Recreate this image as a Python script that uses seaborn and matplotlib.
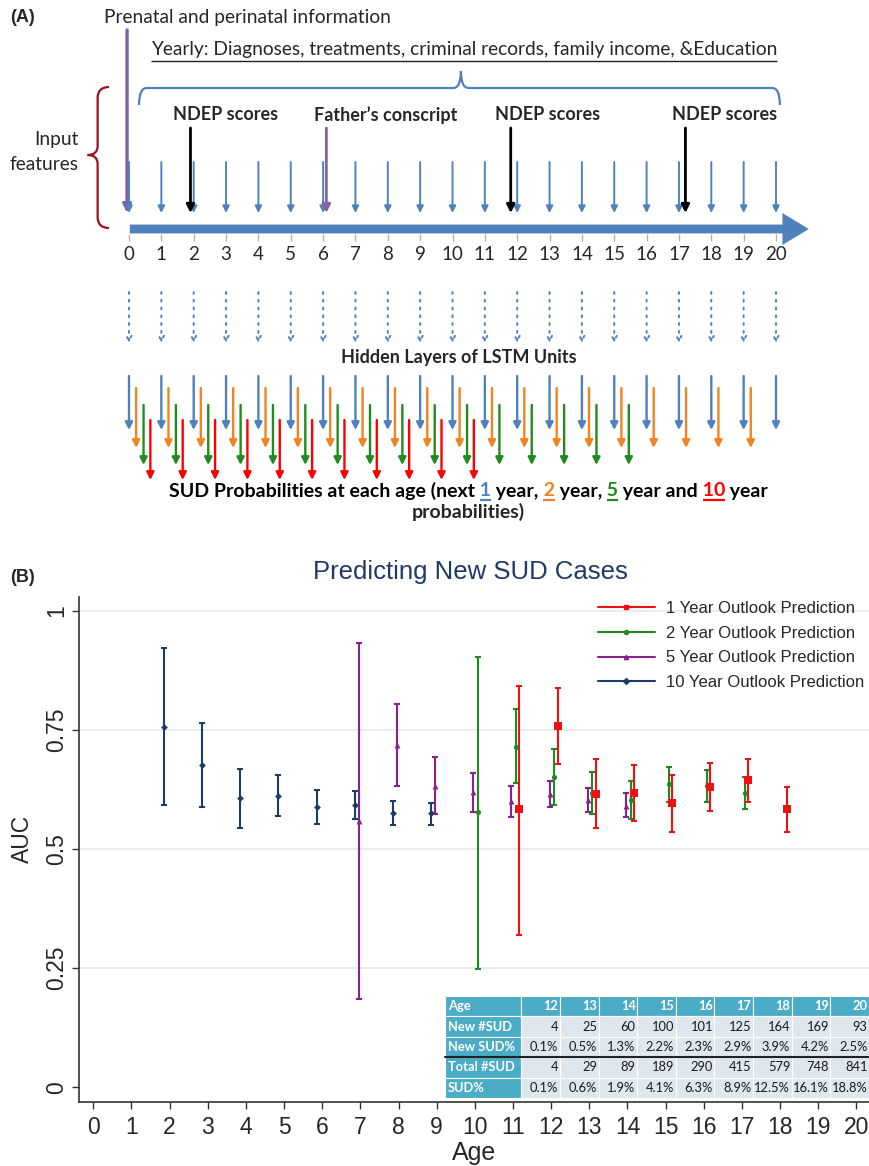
import matplotlib
matplotlib.use('Agg')
import matplotlib.pyplot as plt
import seaborn as sns
import pandas as pd
from matplotlib.lines import Line2D
from matplotlib.patches import FancyArrowPatch, PathPatch
from matplotlib.path import Path
from matplotlib.table import Table

# ---------------- panel A: timeline of the model -----------------
timeline_ages = list(range(0, 21))
out_1yr_ages = list(range(0, 21))
out_2yr_ages = list(range(0, 20))
out_5yr_ages = list(range(0, 16))
out_10yr_ages = list(range(0, 11))
prenatal_age = -0.06
ndep_ages = [1.9, 11.8, 17.2]
conscript_age = 6.1
event_labels = ['NDEP scores', 'Father\u2019s conscript', 'NDEP scores', 'NDEP scores']
event_label_ages = [3.0, 7.95, 12.95, 18.4]

# ---------------- panel B: AUC by age ----------------------------
ten_year_age = [2, 3, 4, 5, 6, 7, 8, 9]
ten_year_auc = [0.756, 0.677, 0.607, 0.612, 0.589, 0.592, 0.576, 0.575]
ten_year_lo = [0.592, 0.589, 0.545, 0.570, 0.553, 0.563, 0.550, 0.550]
ten_year_hi = [0.922, 0.764, 0.668, 0.655, 0.624, 0.622, 0.601, 0.597]

five_year_age = [7, 8, 9, 10, 11, 12, 13, 14]
five_year_auc = [0.559, 0.718, 0.632, 0.619, 0.601, 0.615, 0.603, 0.591]
five_year_lo = [0.186, 0.633, 0.573, 0.578, 0.567, 0.588, 0.577, 0.568]
five_year_hi = [0.933, 0.805, 0.693, 0.660, 0.633, 0.643, 0.628, 0.617]

two_year_age = [10, 11, 12, 13, 14, 15, 16, 17]
two_year_auc = [0.577, 0.715, 0.652, 0.617, 0.603, 0.636, 0.632, 0.618]
two_year_lo = [0.248, 0.639, 0.592, 0.574, 0.564, 0.598, 0.598, 0.585]
two_year_hi = [0.903, 0.793, 0.710, 0.662, 0.642, 0.672, 0.665, 0.651]

one_year_age = [11, 12, 13, 14, 15, 16, 17, 18]
one_year_auc = [0.583, 0.758, 0.616, 0.618, 0.596, 0.631, 0.644, 0.584]
one_year_lo = [0.319, 0.679, 0.545, 0.559, 0.536, 0.580, 0.599, 0.536]
one_year_hi = [0.842, 0.838, 0.688, 0.676, 0.655, 0.681, 0.690, 0.631]

table_ages = [12, 13, 14, 15, 16, 17, 18, 19, 20]
new_sud = [4, 25, 60, 100, 101, 125, 164, 169, 93]
new_sud_pct = ['0.1%', '0.5%', '1.3%', '2.2%', '2.3%', '2.9%', '3.9%', '4.2%', '2.5%']
total_sud = [4, 29, 89, 189, 290, 415, 579, 748, 841]
sud_pct = ['0.1%', '0.6%', '1.9%', '4.1%', '6.3%', '8.9%', '12.5%', '16.1%', '18.8%']

BLUE = '#4f81bd'
ORANGE = '#f58220'
GREEN = '#1e8c1e'
RED = '#ff0000'
PURPLE = '#8064a2'

sns.set_theme(style='white')
plt.rcParams['font.family'] = ['Liberation Sans', 'DejaVu Sans']
CAL = ['Lato', 'DejaVu Sans']

fig = plt.figure(figsize=(8.69, 11.66), dpi=100)

# ================= panel A =================
ax_a = fig.add_axes([0, 1 - 525 / 1166, 1, 525 / 1166])
PX = 32.35  # pixels per year on the timeline
ax_a.set_xlim(-129 / PX, 740 / PX)
ax_a.set_ylim(525, 0)
ax_a.axis('off')


def arrow(x, y0, y1, color, lw, head=10, style='-|>', ls='-'):
    ax_a.annotate('', xy=(x, y1), xytext=(x, y0),
                  arrowprops=dict(arrowstyle=style, color=color, lw=lw, ls=ls,
                                  mutation_scale=head, shrinkA=0, shrinkB=0))


fig.text(10 / 869, 1 - 18 / 1166, '(A)', fontsize=13, fontweight='bold', va='center')
ax_a.text(prenatal_age - 0.72, 18, 'Prenatal and perinatal information',
          family=CAL, fontsize=13.8, va='center', ha='left')
yearly = ax_a.text(10.35, 49, 'Yearly: Diagnoses, treatments, criminal records, family income, &Education',
                   family=CAL, fontsize=13.8, va='center', ha='center')

# blue brace over the yearly inputs
bv = [(0.31, 105), (0.31, 88), (0.55, 88), (10.02, 88), (10.26, 88), (10.26, 71),
      (10.26, 88), (10.5, 88), (19.88, 88), (20.12, 88), (20.12, 105)]
bc = [Path.MOVETO, Path.CURVE3, Path.CURVE3, Path.LINETO, Path.CURVE3, Path.CURVE3,
      Path.CURVE3, Path.CURVE3, Path.LINETO, Path.CURVE3, Path.CURVE3]
ax_a.add_patch(PathPatch(Path(bv, bc), fill=False, edgecolor=BLUE, lw=1.6))

# red brace for the input features
rv = [(-0.62, 87), (-0.97, 87), (-0.97, 98), (-0.97, 146), (-0.97, 155), (-1.28, 155),
      (-0.97, 155), (-0.97, 164), (-0.97, 217), (-0.97, 228), (-0.62, 228)]
ax_a.add_patch(PathPatch(Path(rv, bc), fill=False, edgecolor='#a0101a', lw=1.6))
ax_a.text(-1.55, 140, 'Input', family=CAL, fontsize=13.8, ha='right', va='center')
ax_a.text(-1.55, 164, 'features', family=CAL, fontsize=13.8, ha='right', va='center')

# event arrows
arrow(prenatal_age, 30, 213, PURPLE, 2.4, head=12)
for a in timeline_ages:
    arrow(a, 162, 213, BLUE, 1.4, head=10)
for a in ndep_ages:
    arrow(a, 128, 213, 'black', 2.0, head=12)
arrow(conscript_age, 128, 213, PURPLE, 2.0, head=12)
for a, lab in zip(event_label_ages, event_labels):
    ax_a.text(a, 115, lab, family=CAL, fontsize=13, fontweight='bold', ha='center', va='center')

# main age axis
ax_a.add_patch(FancyArrowPatch((-0.06, 229), (21.1, 229),
                               arrowstyle='simple,head_length=0.95,head_width=1.15,tail_width=0.32',
                               mutation_scale=20, color=BLUE, lw=0))
ax_a.vlines(timeline_ages, 234, 241, color='#b5b5b5', lw=1)
for a in timeline_ages:
    ax_a.text(a, 255, str(a), family=CAL, fontsize=13.5, ha='center', va='center')

# hidden layer
for a in timeline_ages:
    arrow(a, 292, 343, BLUE, 1.4, head=9, style='->', ls=(0, (1, 3)))
ax_a.text(10.2, 357, 'Hidden Layers of LSTM Units', family=CAL, fontsize=13, fontweight='bold',
          ha='center', va='center')

# outputs
for a in out_1yr_ages:
    arrow(a, 376, 430, BLUE, 1.7, head=11)
for a in out_2yr_ages:
    arrow(a + 0.22, 388, 448, ORANGE, 1.7, head=11)
for a in out_5yr_ages:
    arrow(a + 0.45, 405, 465, GREEN, 1.7, head=11)
for a in out_10yr_ages:
    arrow(a + 0.66, 420, 480, RED, 1.7, head=11)

# ================= panel B =================
ax_b = fig.add_axes([79 / 869, 1 - 1102 / 1166, 790 / 869, 505 / 1166])
series = [
    ('10 Year Outlook Prediction', ten_year_age, ten_year_auc, ten_year_lo, ten_year_hi, '#1c3d66', 'D', 12, -0.15),
    ('5 Year Outlook Prediction', five_year_age, five_year_auc, five_year_lo, five_year_hi, '#8b1f8f', '^', 18, -0.04),
    ('2 Year Outlook Prediction', two_year_age, two_year_auc, two_year_lo, two_year_hi, '#1f8a1f', 'o', 14, 0.08),
    ('1 Year Outlook Prediction', one_year_age, one_year_auc, one_year_lo, one_year_hi, '#ee1111', 's', 26, 0.17),
]
handles = []
for label, ages, auc, lo, hi, color, marker, size, shift in series:
    df = pd.DataFrame({'age': ages, 'auc': auc, 'lo': lo, 'hi': hi})
    df['x'] = df['age'] + shift
    ax_b.errorbar(df['x'], df['auc'], yerr=[df['auc'] - df['lo'], df['hi'] - df['auc']],
                  fmt='none', ecolor=color, elinewidth=1.5, capsize=2.2, capthick=1.5, zorder=3)
    sns.scatterplot(data=df, x='x', y='auc', marker=marker, color=color, s=size,
                    linewidth=0, ax=ax_b, zorder=4, legend=False)
    handles.append(Line2D([0], [0], color=color, lw=1.5, marker=marker, markersize=3, label=label))

for g in [0.25, 0.5, 0.75, 1.0]:
    ax_b.axhline(g, color='#e8e8e8', lw=1.2, zorder=1)

ax_b.set_xlim(-0.375, 20.33)
ax_b.set_ylim(-0.031, 1.029)
ax_b.set_xticks(timeline_ages)
ax_b.set_xticklabels([str(a) for a in timeline_ages], fontsize=16.5)
ax_b.set_yticks([0, 0.25, 0.5, 0.75, 1])
ax_b.set_yticklabels(['0', '0.25', '0.5', '0.75', '1'], fontsize=16.5, rotation=90, va='center')
ax_b.tick_params(axis='both', direction='out', length=5, width=1, color='#333333',
                 bottom=True, left=True, pad=3)
ax_b.tick_params(axis='x', pad=5)
for s in ['top', 'right']:
    ax_b.spines[s].set_visible(False)
for s in ['left', 'bottom']:
    ax_b.spines[s].set_color('#333333')
    ax_b.spines[s].set_linewidth(1.2)

ax_b.set_xlabel('Age', fontsize=18)
ax_b.set_ylabel('AUC', fontsize=16.5)
ax_b.xaxis.set_label_coords(0.5, -0.101)
ax_b.xaxis.label.set_va('center')
ax_b.yaxis.set_label_coords(-0.072, 0.52)
ax_b.yaxis.label.set_va('center')
ax_b.yaxis.label.set_ha('center')

leg = ax_b.legend(handles=handles[::-1], loc='upper left', bbox_to_anchor=(0.657, 0.992),
                  frameon=False, fontsize=12, handlelength=3.4, handletextpad=0.65,
                  labelspacing=0.58, borderpad=0, borderaxespad=0)

fig.text(10 / 869, 1 - 577 / 1166, '(B)', fontsize=13, fontweight='bold', va='center')
fig.text(470 / 869, 1 - 572 / 1166, 'Predicting New SUD Cases', fontsize=18.5,
         color='#1f3a68', ha='center', va='center')

# summary table
rows = [['Age'] + [str(a) for a in table_ages],
        ['New #SUD'] + [str(v) for v in new_sud],
        ['New SUD%'] + new_sud_pct,
        ['Total #SUD'] + [str(v) for v in total_sud],
        ['SUD%'] + sud_pct]
col_w = [76] + [38.5] * 9
tx0, tx1 = (445 - 79) / 790, (869 - 79) / 790
ty0, ty1 = (1102 - 1098) / 505, (1102 - 996) / 505
tbl = Table(ax_b, bbox=[tx0, ty0, tx1 - tx0, ty1 - ty0])
for r, row in enumerate(rows):
    for c, txt in enumerate(row):
        teal = r == 0 or c == 0
        cell = tbl.add_cell(r, c, width=col_w[c], height=1, text=txt,
                            loc='left' if c == 0 else 'right',
                            facecolor='#4bacc6' if teal else '#dfe7ee', edgecolor='white')
        cell.set_linewidth(0.8)
        cell.PAD = 0.04
        cell.get_text().set(family=CAL, fontsize=9.3,
                            color='white' if teal else '#1a1a1a',
                            fontweight='bold' if teal else 'normal')
tbl.auto_set_font_size(False)
ax_b.add_table(tbl)
ysep = ty1 - 3 * (ty1 - ty0) / 5
ax_b.plot([tx0, tx1], [ysep, ysep], transform=ax_b.transAxes, color='#222222', lw=1.5,
          clip_on=False, zorder=6)

# ---- texts that need measured widths (underlines, coloured numbers) ----
renderer = fig.canvas.get_renderer()
to_data = ax_a.transData.inverted()


def width_px(s, **kw):
    t = ax_a.text(0, 0, s, **kw)
    w = t.get_window_extent(renderer).width
    t.remove()
    return w


def underline(x_left_px, x_right_px, y, color, lw=1.2):
    xl = to_data.transform((x_left_px, 0))[0]
    xr = to_data.transform((x_right_px, 0))[0]
    ax_a.plot([xl, xr], [y, y], color=color, lw=lw, solid_capstyle='butt')


bb = yearly.get_window_extent(renderer)
underline(bb.x0, bb.x1, 61, '#222222', lw=1.0)

bold = dict(family=CAL, fontsize=14, fontweight='bold')
pieces = [('SUD Probabilities at each age (next', 'black', False), (' 1', BLUE, True),
          (' year,', 'black', False), (' 2', ORANGE, True), (' year,', 'black', False),
          (' 5', GREEN, True), (' year and', 'black', False), (' 10', RED, True),
          (' year', 'black', False)]
full = ''.join(p[0] for p in pieces)
center_px = ax_a.transData.transform((10.5, 0))[0]
left_px = center_px - width_px(full, **bold) / 2
prefix = ''
for txt, color, ul in pieces:
    prefix += txt
    right_px = left_px + width_px(prefix, **bold)
    xr = to_data.transform((right_px, 0))[0]
    ax_a.text(xr, 491, txt, color=color, ha='right', va='center', **bold)
    if ul:
        w = width_px(txt.strip(), **bold)
        underline(right_px - w, right_px, 500, color, lw=1.6)
ax_a.text(10.5, 512, 'probabilities)', ha='center', va='center', **bold)

fig.savefig('out.png', dpi=100)
